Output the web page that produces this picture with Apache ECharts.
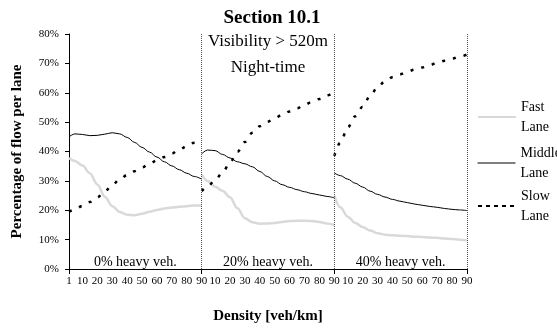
<!DOCTYPE html>
<html>
<head>
<meta charset="utf-8">
<script src="https://cdn.jsdelivr.net/npm/echarts@6/dist/echarts.min.js"></script>
<style>
  html, body { margin: 0; padding: 0; background: #fff; }
  #chart { width: 557px; height: 329px; }
</style>
</head>
<body>
<div id="chart"></div>
<script>
// ---- Data (percentage of flow per lane) ----
const densities = [1, 5, 10, 15, 20, 25, 30, 35, 40, 45, 50, 55, 60, 65, 70, 75, 80, 85, 90];
const panelNames = ['0% heavy veh.', '20% heavy veh.', '40% heavy veh.'];
const laneNames = ['Fast Lane', 'Middle Lane', 'Slow Lane'];

const fast_0 = [37.8, 36.8, 35.2, 32.6, 28.8, 24.6, 21.4, 19.4, 18.5, 18.3, 18.8, 19.5, 20.1, 20.6, 20.9, 21.2, 21.4, 21.6, 21.6];
const fast_20 = [32.2, 30.0, 28.0, 26.6, 24.4, 20.7, 17.3, 15.9, 15.4, 15.5, 15.7, 16.0, 16.3, 16.4, 16.4, 16.3, 16.0, 15.5, 15.0];
const fast_40 = [25.0, 21.0, 17.8, 15.7, 14.3, 13.1, 12.2, 11.7, 11.5, 11.3, 11.2, 11.0, 10.9, 10.7, 10.6, 10.4, 10.2, 10.0, 9.8];

const middle_0 = [45.0, 46.0, 45.8, 45.4, 45.5, 45.9, 46.4, 46.0, 44.8, 43.1, 41.4, 39.8, 38.1, 36.5, 35.1, 33.8, 32.6, 31.5, 30.6];
const middle_20 = [39.2, 40.5, 40.3, 39.0, 37.8, 36.5, 35.8, 34.8, 33.2, 31.5, 30.0, 28.7, 27.8, 27.0, 26.3, 25.7, 25.2, 24.7, 24.2];
const middle_40 = [32.7, 31.8, 30.6, 29.2, 27.9, 26.5, 25.4, 24.5, 23.7, 23.1, 22.6, 22.1, 21.7, 21.3, 21.0, 20.6, 20.3, 20.1, 19.9];

const slow_0 = [19.5, 20.3, 21.5, 22.8, 24.4, 26.4, 28.6, 30.5, 32.0, 33.3, 34.6, 35.9, 37.0, 38.1, 39.3, 40.6, 41.8, 43.0, 44.0];
const slow_20 = [26.5, 28.0, 30.3, 32.8, 36.3, 39.9, 43.2, 46.4, 48.6, 50.1, 51.3, 52.5, 53.6, 54.7, 55.9, 56.9, 57.9, 59.1, 60.3];
const slow_40 = [38.5, 43.0, 48.2, 52.0, 55.2, 58.9, 61.9, 63.9, 65.3, 66.3, 67.2, 67.9, 68.6, 69.4, 70.2, 70.9, 71.6, 72.3, 73.0];

// tick labels on the density axis (each panel runs from 1 to 90)
const tickDensities = [1, 10, 20, 30, 40, 50, 60, 70, 80, 90];
const yTicks = { min: 0, max: 80, interval: 10 };

// ---- Layout helpers ----
const DMIN = 1, DMAX = 90;
const SPAN = DMAX - DMIN;            // width of one panel in axis units
const gx = (p, d) => p * SPAN + (d - DMIN);
const nPanels = panelNames.length;

const labelMap = {};
const labelValues = [];
for (let p = 0; p < nPanels; p++) {
  tickDensities.forEach(d => {
    const v = gx(p, d);
    if (!(v in labelMap)) { labelMap[v] = String(d); labelValues.push(v); }
  });
}
const boundaries = [];
for (let p = 0; p <= nPanels; p++) boundaries.push(p * SPAN);

const laneData = {
  'Fast Lane': [fast_0, fast_20, fast_40],
  'Middle Lane': [middle_0, middle_20, middle_40],
  'Slow Lane': [slow_0, slow_20, slow_40]
};
const laneStyle = {
  'Fast Lane': { color: '#d9d9d9', width: 2.5, type: 'solid' },
  'Middle Lane': { color: '#000000', width: 1, type: 'solid' },
  'Slow Lane': { color: '#000000', width: 2.5, type: [3, 8], cap: 'butt' }
};
const legendLineStyle = {
  'Fast Lane': { color: '#d9d9d9', width: 2, type: 'solid', opacity: 1 },
  'Middle Lane': { color: '#000000', width: 1, type: 'solid', opacity: 1 },
  'Slow Lane': { color: '#000000', width: 2, type: [4, 4], opacity: 1 }
};

const FONT = '"Liberation Serif", "Times New Roman", serif';

const series = [];
laneNames.forEach(name => {
  laneData[name].forEach((vals, p) => {
    series.push({
      name: name,
      type: 'line',
      symbol: 'none',
      smooth: 0.35,
      smoothMonotone: 'x',
      silent: true,
      lineStyle: laneStyle[name],
      itemStyle: { color: laneStyle[name].color },
      z: name === 'Fast Lane' ? 1 : 2,
      data: vals.map((v, i) => [gx(p, densities[i]), v])
    });
  });
});
// panel dividers
series.push({
  type: 'line',
  data: [],
  silent: true,
  markLine: {
    silent: true,
    symbol: 'none',
    label: { show: false },
    lineStyle: { color: '#555', type: 'dotted', width: 1 },
    data: boundaries.slice(1).map(b => ({ xAxis: b }))
  }
});

const legendTops = [117, 163, 206];
const legends = laneNames.map((name, i) => ({
  data: [name],
  orient: 'vertical',
  left: 477,
  top: legendTops[i] - 30,
  padding: 0,
  itemWidth: 38,
  itemHeight: 14,
  selectedMode: false,
  itemStyle: { opacity: 0 },
  lineStyle: legendLineStyle[name],
  formatter: n => n.replace(' ', '\n'),
  textStyle: {
    fontFamily: FONT, fontSize: 14, color: '#000',
    lineHeight: 20, padding: [20, 0, 0, 0]
  }
}));

const chart = echarts.init(document.getElementById('chart'), null, { renderer: 'canvas' });

chart.setOption({
  animation: false,
  backgroundColor: '#fff',
  grid: { left: 69, right: 90, top: 34, bottom: 56, containLabel: false },
  legend: legends,
  xAxis: {
    type: 'value',
    min: boundaries[0],
    max: boundaries[boundaries.length - 1],
    name: 'Density [veh/km]',
    nameLocation: 'middle',
    nameGap: 40,
    nameTextStyle: { fontFamily: FONT, fontSize: 15, fontWeight: 'bold', color: '#000' },
    axisLine: { show: true, lineStyle: { color: '#000', width: 1 } },
    axisTick: { show: true, customValues: boundaries, length: 5, lineStyle: { color: '#000' } },
    axisLabel: {
      customValues: labelValues,
      formatter: v => labelMap[v] !== undefined ? labelMap[v] : '',
      fontFamily: FONT, fontSize: 11, color: '#000', margin: 7
    },
    splitLine: { show: false }
  },
  yAxis: {
    type: 'value',
    min: yTicks.min, max: yTicks.max, interval: yTicks.interval,
    name: 'Percentage of flow per lane',
    nameLocation: 'middle',
    nameGap: 44,
    nameTextStyle: { fontFamily: FONT, fontSize: 15, fontWeight: 'bold', color: '#000' },
    axisLine: { show: true, lineStyle: { color: '#000', width: 1 } },
    axisTick: { show: true, length: 4, lineStyle: { color: '#000' } },
    axisLabel: { formatter: '{value}%', fontFamily: FONT, fontSize: 11, color: '#000', margin: 10 },
    splitLine: { show: false }
  },
  series: series
});

// Text annotations: panel labels positioned at the centre of each panel via the axis scale
const graphics = [
  { type: 'text', style: { text: 'Section 10.1', x: 272, y: 18, font: 'bold 19px ' + FONT, fill: '#000', align: 'center', verticalAlign: 'middle' } },
  { type: 'text', style: { text: 'Visibility > 520m', x: 268, y: 42, font: '17px ' + FONT, fill: '#000', align: 'center', verticalAlign: 'middle' } },
  { type: 'text', style: { text: 'Night-time', x: 268, y: 68, font: '17px ' + FONT, fill: '#000', align: 'center', verticalAlign: 'middle' } }
];
panelNames.forEach((t, p) => {
  const px = chart.convertToPixel({ gridIndex: 0 }, [gx(p, (DMIN + DMAX) / 2), 0]);
  graphics.push({
    type: 'text',
    style: { text: t, x: px[0], y: px[1] - 7, font: '14px ' + FONT, fill: '#000', align: 'center', verticalAlign: 'middle' }
  });
});
chart.setOption({ graphic: graphics });
</script>
</body>
</html>
